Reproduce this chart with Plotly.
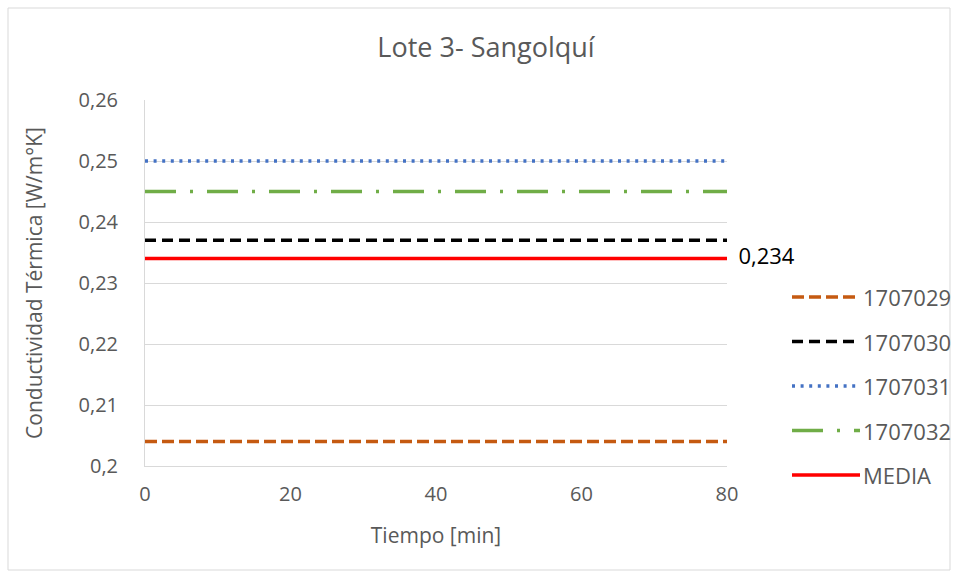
import plotly.graph_objects as go

x_vals = [0, 80]
series_names = ["1707029", "1707030", "1707031", "1707032", "MEDIA"]
series_values = [0.204, 0.237, 0.250, 0.245, 0.234]
colors = ["#C55A11", "#000000", "#4472C4", "#70AD47", "#FF0000"]
dashes = ["12px,5px", "11px,6px", "3px,5.6px", "31px,14px,3px,14px", "solid"]
media_label = "0,234"
x_ticks = [0, 20, 40, 60, 80]
y_ticks = [0.20, 0.21, 0.22, 0.23, 0.24, 0.25, 0.26]
y_tick_text = ["0,2", "0,21", "0,22", "0,23", "0,24", "0,25", "0,26"]

FONT = "Open Sans, sans-serif"
GREY = "#595959"
W, H = 958, 577
L, R, T, B = 145, 231, 100, 111
PW, PH = W - L - R, H - T - B

def px_x(px):
    return (px - L) / PW

def px_y(py):
    return (H - B - py) / PH

fig = go.Figure()
for i, (name, val, col, dash) in enumerate(zip(series_names, series_values, colors, dashes)):
    is_media = name == "MEDIA"
    fig.add_trace(go.Scatter(
        x=x_vals, y=[val] * len(x_vals), name=name,
        mode="lines+text" if is_media else "lines",
        text=["", "  " + media_label] if is_media else None,
        textposition="middle right",
        textfont=dict(size=22, color="#000000", family=FONT),
        line=dict(color=col, width=3.5, dash=dash),
        showlegend=False,
        cliponaxis=False,
    ))

# custom legend (long line samples like the original)
for i, (name, col, dash) in enumerate(zip(series_names, colors, dashes)):
    yy = px_y(297 + i * 44.5)
    fig.add_shape(type="line", xref="paper", yref="paper",
                  x0=px_x(792), x1=px_x(860), y0=yy, y1=yy,
                  line=dict(color=col, width=3.5, dash=dash))
    fig.add_annotation(xref="paper", yref="paper", x=px_x(861), y=yy,
                       xanchor="left", yanchor="middle", text=name, showarrow=False,
                       font=dict(size=22, color=GREY, family=FONT))

fig.update_layout(
    width=W, height=H,
    paper_bgcolor="white", plot_bgcolor="white",
    margin=dict(l=L, r=R, t=T, b=B),
    font=dict(family=FONT, color=GREY, size=20),
    title=dict(text="Lote 3- Sangolquí", x=486 / W, xanchor="center", xref="container",
               y=1 - 48 / H, yanchor="middle", font=dict(size=27, color=GREY)),
    showlegend=False,
    xaxis=dict(range=[0, 80], tickvals=x_ticks, showgrid=False, zeroline=False,
               showline=True, linecolor="#D9D9D9", linewidth=1, ticks="",
               ticklabelstandoff=10,
               title=dict(text="Tiempo [min]", font=dict(size=21, color=GREY), standoff=22),
               tickfont=dict(size=20)),
    yaxis=dict(range=[0.2, 0.26], tickvals=y_ticks, ticktext=y_tick_text,
               showgrid=True, gridcolor="#D9D9D9", gridwidth=1, zeroline=False,
               showline=True, linecolor="#D9D9D9", linewidth=1, ticks="",
               ticklabelstandoff=22,
               title=dict(text="Conductividad Térmica [W/m°K]", font=dict(size=21, color=GREY), standoff=30),
               tickfont=dict(size=20)),
)

# outer chart border
fig.add_shape(type="rect", xref="paper", yref="paper",
              x0=px_x(8), x1=px_x(950), y0=px_y(570), y1=px_y(8),
              line=dict(color="#D9D9D9", width=1), fillcolor="rgba(0,0,0,0)", layer="below")

fig.write_html("out.html", config={"displayModeBar": False})

with open("out.html", "r", encoding="utf-8") as f:
    html = f.read()
html = html.replace("<head>", "<head><style>html,body{margin:0;padding:0;}</style>", 1)
with open("out.html", "w", encoding="utf-8") as f:
    f.write(html)
